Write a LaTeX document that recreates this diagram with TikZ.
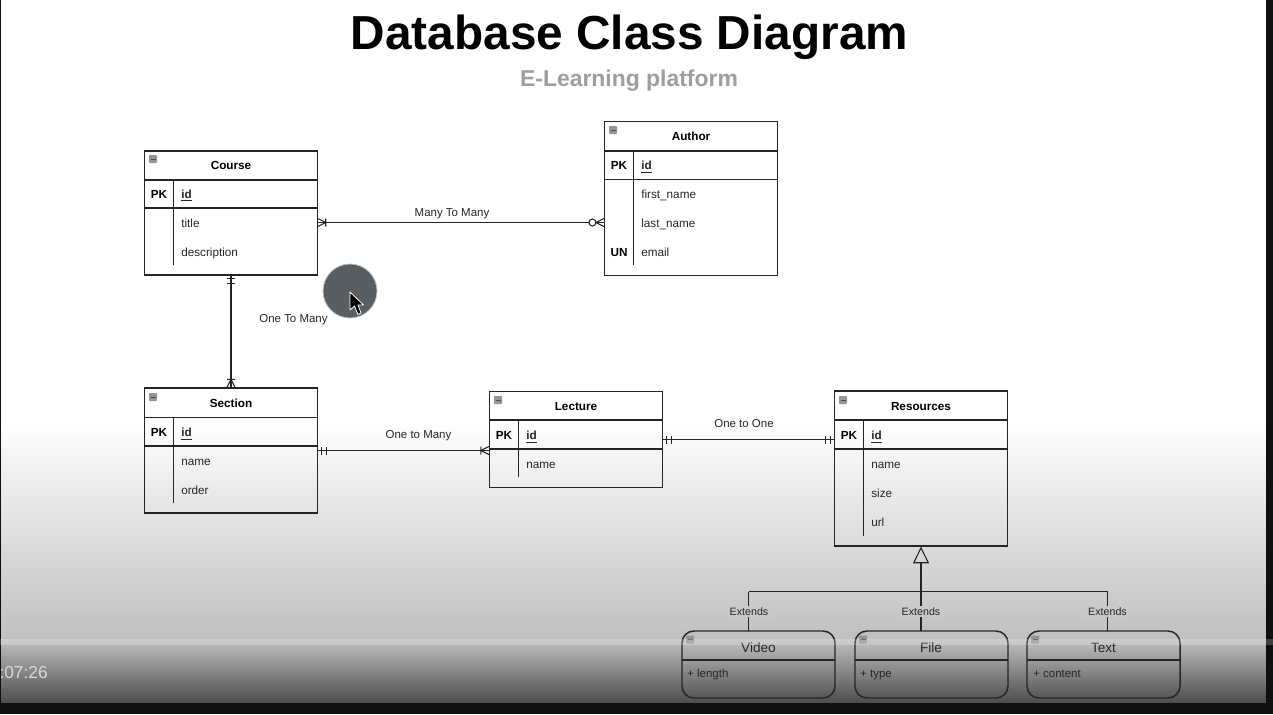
\documentclass[tikz,border=0pt]{standalone}
\usepackage{fontspec}
\setmainfont{Liberation Sans}
\usetikzlibrary{arrows.meta}

\definecolor{linedark}{rgb}{0.14,0.14,0.14}
\definecolor{subgrey}{rgb}{0.62,0.62,0.62}
\definecolor{icongrey}{rgb}{0.58,0.58,0.60}
\definecolor{cursorgrey}{rgb}{0.35,0.37,0.39}

\tikzset{
  tablebox/.style={draw=linedark,line width=0.9pt,fill=none,inner sep=0pt,minimum width=129.75pt},
  rowbox/.style={inner sep=0pt,minimum width=129.75pt,minimum height=21.75pt},
  keytext/.style={font=\bfseries\fontsize{8.8}{10}\selectfont,text=black,text height=8.5pt,text depth=2pt,inner sep=0pt},
  fieldtext/.style={font=\fontsize{8.8}{10}\selectfont,text=black!85,anchor=west,inner sep=0pt,text height=8.5pt,text depth=2pt},
  titletext/.style={font=\bfseries\fontsize{8.8}{10}\selectfont,text=black,text height=8.5pt,text depth=2pt,inner sep=0pt},
  relline/.style={draw=linedark,line width=0.8pt},
  rellabel/.style={font=\fontsize{8.6}{10}\selectfont,text=black!85,inner sep=0pt},
  extendslabel/.style={font=\fontsize{8}{10}\selectfont,text=black!85,inner sep=1.2pt},
  childbox/.style={draw=black!85,line width=1.1pt,rounded corners=9pt,inner sep=0pt,minimum width=114.75pt,minimum height=50.25pt},
  childtitle/.style={font=\fontsize{10.2}{12}\selectfont,text=black!85,text height=9.5pt,text depth=2.5pt,inner sep=0pt},
  childfield/.style={font=\fontsize{8.6}{10}\selectfont,text=black!85,anchor=west,inner sep=0pt,text height=8.5pt,text depth=2pt},
  % pics are not flipped by yscale, so y runs upward in them
  minusicon/.pic={
    \fill[icongrey,rounded corners=0.6pt] (0,0) rectangle (8,-8);
    \draw[black!70,line width=0.5pt] (1.5,-4) -- (6.5,-4);
  },
  % marks below are drawn with +x pointing away from the box
  onebars/.pic={\draw[relline] (3,-4) -- (3,4) (8,-4) -- (8,4);},
  crowbar/.pic={\draw[relline] (0,-4) -- (8,0) -- (0,4) (8,-4) -- (8,4);},
  crowring/.pic={\draw[relline] (0,-4) -- (8,0) -- (0,4);\draw[relline,fill=white] (11.5,0) circle (3.5);}
}

\begin{document}
\begin{tikzpicture}[x=0.75pt,y=0.75pt,yscale=-1,xscale=1]
\useasboundingbox (0,0) rectangle (1273,714);
\clip (0,0) rectangle (1273,714);

%Background
\fill[white] (0,0) rectangle (1273,420);
\shade[top color=white,bottom color=black!25] (0,420) rectangle (1273,640);
\shade[top color=black!25,middle color=black!36,bottom color=black!70] (0,640) rectangle (1273,703);
\fill[black!94] (0,703) rectangle (1273,714);
\fill[black!94] (0,0) rectangle (1,714);
\fill[black!94] (1266,0) rectangle (1273,714);

%Title
\node[font=\bfseries\fontsize{35.8}{40}\selectfont,text=black] (maintitle) at (629.5,37) {Database Class Diagram};
\node[font=\bfseries\fontsize{17.2}{20}\selectfont,text=subgrey] (subtitle) at (629,80.5) {E-Learning platform};

%Shape: Course
\node[tablebox,minimum height=93pt] (course) at (231,213) {};
\draw[relline] (144.5,180) -- (317.5,180);
\draw[relline,line width=1pt] (144.5,208) -- (317.5,208);
\draw[relline] (173.5,180) -- (173.5,265);
\pic at (149,155) {minusicon};
\node[titletext] (coursename) at (231,165.5) {Course};
\node[keytext] (coursepk) at (159,194) {PK};
\node[fieldtext] (courseid) at (181,194) {\bfseries\underline{id}};
\node[rowbox] (coursetitlerow) at (231,222.5) {};
\node[fieldtext] (coursetitle) at (181,223) {title};
\node[fieldtext] (coursedesc) at (181,252) {description};

%Shape: Author
\node[tablebox,minimum height=115pt] (author) at (691,198.5) {};
\draw[relline] (604.5,151) -- (777.5,151);
\draw[relline,line width=1pt] (604.5,179.5) -- (777.5,179.5);
\draw[relline] (633.5,151) -- (633.5,265);
\pic at (609,126) {minusicon};
\node[titletext] (authorname) at (691,136.5) {Author};
\node[keytext] (authorpk) at (619,165.5) {PK};
\node[fieldtext] (authorid) at (641,165.5) {\bfseries\underline{id}};
\node[fieldtext] (authorfirst) at (641,194.5) {first\_name};
\node[fieldtext] (authorlast) at (641,223.5) {last\_name};
\node[keytext] (authorun) at (619,252) {UN};
\node[fieldtext] (authoremail) at (641,252) {email};

%Shape: Section
\node[tablebox,minimum height=93.75pt] (section) at (231,450.5) {};
\draw[relline] (144.5,417.5) -- (317.5,417.5);
\draw[relline,line width=1pt] (144.5,446) -- (317.5,446);
\draw[relline] (173.5,417.5) -- (173.5,503);
\pic at (149,393) {minusicon};
\node[titletext] (sectionname) at (231,403.5) {Section};
\node[keytext] (sectionpk) at (159,432.5) {PK};
\node[fieldtext] (sectionid) at (181,432.5) {\bfseries\underline{id}};
\node[fieldtext] (sectionfield) at (181,461.5) {name};
\node[fieldtext] (sectionorder) at (181,490.5) {order};

%Shape: Lecture
\node[tablebox,minimum height=72pt] (lecture) at (576,439.5) {};
\draw[relline] (489.5,420) -- (662.5,420);
\draw[relline,line width=1pt] (489.5,449) -- (662.5,449);
\draw[relline] (518.5,420) -- (518.5,477);
\pic at (494,396) {minusicon};
\node[titletext] (lecturename) at (576,406.5) {Lecture};
\node[keytext] (lecturepk) at (504,435.5) {PK};
\node[fieldtext] (lectureid) at (526,435.5) {\bfseries\underline{id}};
\node[fieldtext] (lecturefield) at (526,464.5) {name};

%Shape: Resources
\node[tablebox,minimum height=116.25pt] (resources) at (921,468.5) {};
\draw[relline] (834.5,420) -- (1007.5,420);
\draw[relline,line width=1pt] (834.5,449) -- (1007.5,449);
\draw[relline] (863.5,420) -- (863.5,536);
\pic at (839,396) {minusicon};
\node[titletext] (resourcesname) at (921,406.5) {Resources};
\node[keytext] (resourcespk) at (849,435.5) {PK};
\node[fieldtext] (resourcesid) at (871,435.5) {\bfseries\underline{id}};
\node[fieldtext] (resourcesfield) at (871,464.5) {name};
\node[fieldtext] (resourcessize) at (871,493.5) {size};
\node[fieldtext] (resourcesurl) at (871,522.5) {url};

%Shape: children
\node[childbox] (video) at (758.5,664.5) {};
\draw[black!85,line width=1.1pt] (682,660) -- (835,660);
\pic at (686,635.5) {minusicon};
\node[childtitle] (videoname) at (758.5,647.5) {Video};
\node[childfield] (videolength) at (687,673.5) {+ length};

\node[childbox] (file) at (931.5,664.5) {};
\draw[black!85,line width=1.1pt] (855,660) -- (1008,660);
\pic at (859,635.5) {minusicon};
\node[childtitle] (filename) at (931,647.5) {File};
\node[childfield] (filetype) at (860,673.5) {+ type};

\node[childbox] (textbox) at (1103.5,664.5) {};
\draw[black!85,line width=1.1pt] (1027,660) -- (1180,660);
\pic at (1031,635.5) {minusicon};
\node[childtitle] (textname) at (1103.5,647.5) {Text};
\node[childfield] (textcontent) at (1033,673.5) {+ content};

%Straight Lines
\draw[relline] (coursetitlerow.east) -- (coursetitlerow.east -| author.west);
\node[rellabel] (manytext) at (452,214) {Many To Many};
\pic at (coursetitlerow.east) {crowbar};
\pic[rotate=180] at (coursetitlerow.east -| author.west) {crowring};

\draw[relline] (course.south) -- (section.north);
\pic[rotate=-90] at (course.south) {onebars};
\pic[rotate=90] at (section.north) {crowbar};
\node[rellabel] (onetomany) at (293.5,320) {One To Many};

\draw[relline] (section.east) -- (section.east -| lecture.west);
\node[rellabel] (onelecture) at (418.5,435.5) {One to Many};
\pic at (section.east) {onebars};
\pic[rotate=180] at (section.east -| lecture.west) {crowbar};

\draw[relline] (lecture.east) -- (lecture.east -| resources.west);
\node[rellabel] (oneone) at (744,423.5) {One to One};
\pic at (lecture.east) {onebars};
\pic[rotate=180] at (lecture.east -| resources.west) {onebars};

%Inheritance
\coordinate (branchfile) at (921,591.5);
\coordinate (branchvideo) at (748.5,591.5);
\coordinate (branchtext) at (1107.5,591.5);
\coordinate (videotop) at (748.5,631);
\coordinate (filetop) at (921,631);
\coordinate (texttop) at (1107.5,631);
\draw[relline] (branchvideo) -- (branchtext);
\draw[relline] (branchfile) -- (filetop);
\draw[relline,-{Triangle[open,length=12.5pt,width=12pt]}] (branchfile) -- (resources.south);
\draw[relline] (branchvideo) -- (videotop);
\draw[relline] (branchtext) -- (texttop);
\node[extendslabel,fill=black!21] (extendsvideo) at (749,611.5) {Extends};
\node[extendslabel,fill=black!21] (extendsfile) at (921,611.5) {Extends};
\node[extendslabel,fill=black!21] (extendstext) at (1107.5,611.5) {Extends};

%Shape: Circle
\fill[cursorgrey,draw=black!25,line width=0.6pt] (350,291) circle (27);
\draw[white,line width=0.6pt,fill=black,line join=round] (350,292) -- (350,310) -- (354.5,306) -- (358,314.5) -- (361,313) -- (358,305) -- (363.5,305) -- cycle;

%Player
\fill[white,opacity=0.2] (0,639) rectangle (1273,645);
\node[font=\fontsize{13}{14}\selectfont,text=black!15,anchor=east,inner sep=0pt] (timestamp) at (48,673) {5:07:26};

\end{tikzpicture}
\end{document}
